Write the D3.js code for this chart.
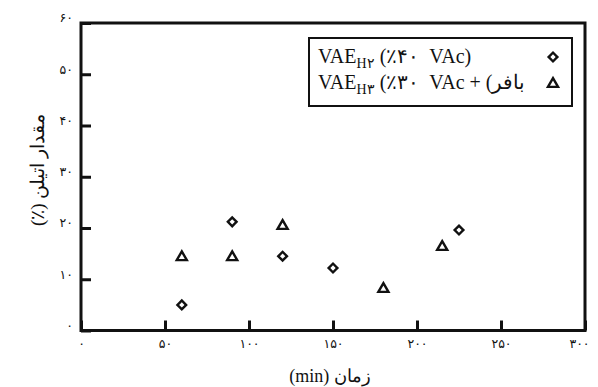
<!DOCTYPE html>
<html><head><meta charset="utf-8">
<script src="https://cdn.jsdelivr.net/npm/d3@7"></script>
<style>
html,body{margin:0;padding:0;background:#fff;}
svg{display:block;}
</style></head>
<body><svg id="c" width="598" height="387"></svg>
<script>
// Data
const timeH2 = [60, 90, 120, 150, 225];
const ethyleneH2 = [5.0, 21.2, 14.5, 12.2, 19.6];
const timeH3 = [60, 90, 120, 180, 215];
const ethyleneH3 = [14.3, 14.3, 20.4, 8.1, 16.3];
const xTicks = [0, 50, 100, 150, 200, 250, 300];
const yTicks = [0, 10, 20, 30, 40, 50, 60];
const xTitle = "(min) زمان";
const yTitle = "(٪) مقدار اتیلن";
const legendH2 = ["H۲", "(٪۴۰  VAc)"];
const legendH3 = ["H۳", "(٪۳۰  VAc + \u200E(\u200Eبافر"];

const toFa = s => String(s).replace(/[0-9]/g, d => "۰۱۲۳۴۵۶۷۸۹"[+d]);

const svg = d3.select("#c");
const L = 81, R = 585, T = 23, B = 330.5;
const x = d3.scaleLinear().domain([0, 300]).range([L, R]);
const y = d3.scaleLinear().domain([0, 60]).range([B, T]);

const fontNum = "'DejaVu Sans', sans-serif";
const fontSerif = "'Liberation Serif', 'DejaVu Serif', serif";

// Axes with inward ticks
const gx = svg.append("g").attr("transform", `translate(0,${B})`)
  .call(d3.axisBottom(x).tickValues(xTicks).tickSizeInner(-10).tickSizeOuter(0).tickPadding(9).tickFormat(toFa));
const gy = svg.append("g").attr("transform", `translate(${L},0)`)
  .call(d3.axisLeft(y).tickValues(yTicks).tickSizeInner(-10).tickSizeOuter(0).tickPadding(8).tickFormat(toFa));
[gx, gy].forEach(g => {
  g.select(".domain").remove();
  g.selectAll(".tick line").attr("stroke", "#111").attr("stroke-width", 3);
  g.selectAll(".tick text").attr("fill", "#111").style("font-family", fontNum).style("font-size", "12.5px");
});
gy.selectAll(".tick text").attr("dy", "-0.1em");
gx.select(".tick:last-of-type text").attr("dx", "-6");

// Frame
svg.append("rect").attr("x", L).attr("y", T).attr("width", R - L).attr("height", B - T)
  .attr("fill", "none").attr("stroke", "#111").attr("stroke-width", 3);

// Markers
const diamond = d3.symbol().type(d3.symbolSquare).size(38);
const tri = d3.symbol().type(d3.symbolTriangle).size(44);
svg.append("g").selectAll("path").data(timeH2.map((t, i) => [t, ethyleneH2[i]])).join("path")
  .attr("d", diamond).attr("transform", d => `translate(${x(d[0])},${y(d[1])}) rotate(45)`)
  .attr("fill", "#fff").attr("stroke", "#111").attr("stroke-width", 2.4);
svg.append("g").selectAll("path").data(timeH3.map((t, i) => [t, ethyleneH3[i]])).join("path")
  .attr("d", tri).attr("transform", d => `translate(${x(d[0])},${y(d[1])})`)
  .attr("fill", "#fff").attr("stroke", "#111").attr("stroke-width", 2.4);

// Legend
const lg = svg.append("g");
lg.append("rect").attr("x", 309).attr("y", 38).attr("width", 263).attr("height", 68)
  .attr("fill", "#fff").attr("stroke", "#111").attr("stroke-width", 2);
function legendLine(yb, item) {
  const t = lg.append("text").attr("x", 318).attr("y", yb).attr("fill", "#111")
    .style("font-family", fontSerif).style("font-size", "20px").style("white-space", "pre");
  t.append("tspan").text("VAE");
  t.append("tspan").attr("dy", 5).style("font-size", "14px").text(item[0]);
  t.append("tspan").attr("dy", -5).text(" " + item[1]);
}
legendLine(63, legendH2);
legendLine(89, legendH3);
lg.append("path").attr("d", diamond).attr("transform", "translate(553,57) rotate(45)")
  .attr("fill", "#fff").attr("stroke", "#111").attr("stroke-width", 2.4);
lg.append("path").attr("d", tri).attr("transform", "translate(553,84)")
  .attr("fill", "#fff").attr("stroke", "#111").attr("stroke-width", 2.4);

// Titles
svg.append("text").attr("x", 330).attr("y", 382).attr("text-anchor", "middle")
  .attr("fill", "#111").style("font-family", fontSerif).style("font-size", "18px").text(xTitle);
svg.append("text").attr("transform", "translate(44,170) rotate(-90)").attr("text-anchor", "middle")
  .attr("fill", "#111").style("font-family", fontSerif).style("font-size", "19px").text(yTitle);
</script>
</body></html>
